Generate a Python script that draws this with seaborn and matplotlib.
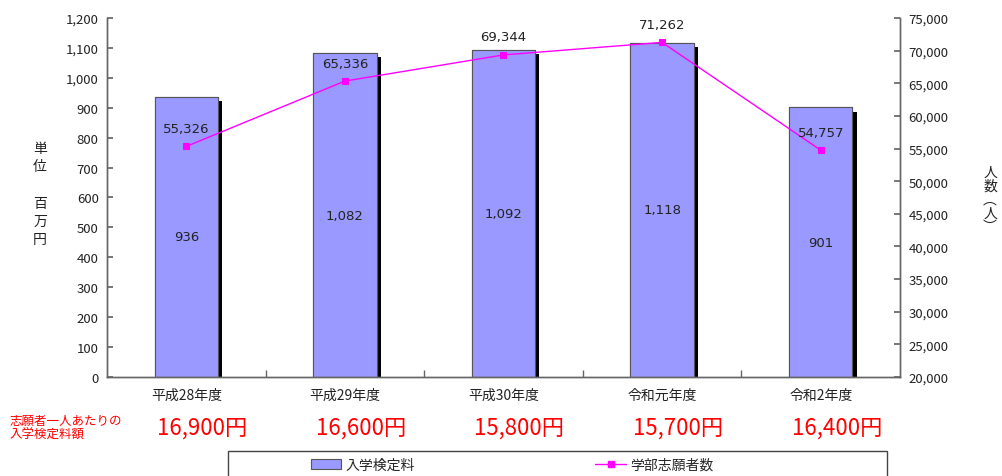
import matplotlib
matplotlib.use("Agg")
import matplotlib.pyplot as plt
import matplotlib.patheffects as pe
from matplotlib.patches import Rectangle, Patch
from matplotlib.lines import Line2D
from matplotlib.ticker import FuncFormatter, MultipleLocator, FixedLocator
import seaborn as sns
import pandas as pd

categories = ["平成28年度", "平成29年度", "平成30年度", "令和元年度", "令和2年度"]
fee_total = [936, 1082, 1092, 1118, 901]            # 入学検定料 (百万円)
applicants = [55326, 65336, 69344, 71262, 54757]    # 学部志願者数 (人)
fee_per_person = ["16,900円", "16,600円", "15,800円", "15,700円", "16,400円"]

sns.set_theme(style="white")
plt.rcParams['font.family'] = ['Noto Sans CJK JP', 'DejaVu Sans']

df = pd.DataFrame({"year": categories, "fee": fee_total, "apps": applicants})

fig = plt.figure(figsize=(10.02, 4.77), dpi=100)
ax = fig.add_axes([107/1002, 99/477, 793/1002, 359/477])

sns.barplot(data=df, x="year", y="fee", ax=ax, color="#9999FF", saturation=1,
            width=0.4, edgecolor="#555555", linewidth=0.8)
for p in ax.patches:
    p.set_path_effects([pe.withSimplePatchShadow(offset=(3, -3), shadow_rgbFace="black", alpha=1.0),
                        pe.Normal()])

ax.set_ylim(0, 1200)
ax.set_xlim(-0.5, 4.5)
ax.yaxis.set_major_locator(MultipleLocator(100))
ax.yaxis.set_major_formatter(FuncFormatter(lambda v, p: f"{int(v):,}"))
ax.set_xlabel("")
ax.set_ylabel("")

for i, v in enumerate(fee_total):
    ax.text(i, v / 2, f"{v:,}", ha="center", va="center", fontsize=9.5, color="#222222",
            family=['DejaVu Sans'])

ax2 = ax.twinx()
sns.pointplot(x=categories, y=applicants, ax=ax2, color="#FF00FF", markers="s",
              linestyles="-", markersize=5, linewidth=1.0)
ax2.set_ylim(20000, 75000)
ax2.yaxis.set_major_locator(MultipleLocator(5000))
ax2.yaxis.set_major_formatter(FuncFormatter(lambda v, p: f"{int(v):,}"))
ax2.set_xlim(-0.5, 4.5)
ax2.set_ylabel("")
for i, v in enumerate(applicants):
    ax2.annotate(f"{v:,}", (i, v), xytext=(0, 13), textcoords="offset points",
                 ha="center", va="center", fontsize=9.5, color="#222222", family=['DejaVu Sans'])

spine_c = "#666666"
for a in (ax, ax2):
    for s in ("left", "right", "bottom"):
        a.spines[s].set_color(spine_c)
        a.spines[s].set_linewidth(1.0)
    a.spines["top"].set_visible(False)
    a.grid(False)

ax.tick_params(axis="y", direction="in", length=4, color=spine_c, labelsize=9.5, pad=6,
               labelcolor="#222222")
ax2.tick_params(axis="y", direction="in", length=4, color=spine_c, labelsize=9.5, pad=6,
                labelcolor="#222222")
ax.set_xticks(range(len(categories)))
ax.set_xticklabels(categories)
ax.tick_params(axis="x", which="major", length=0, labelsize=10, pad=8, labelcolor="#222222")
ax.xaxis.set_minor_locator(FixedLocator([0.5, 1.5, 2.5, 3.5]))
ax.tick_params(axis="x", which="minor", direction="in", length=5, color=spine_c, bottom=True)
ax2.tick_params(axis="x", which="both", length=0, labelbottom=False)

# axis titles (vertical stacked)
fig.text(40/1002, 1 - 158/477, "単\n位", ha="center", va="center",
         fontsize=10, color="#222222", linespacing=1.4)
fig.text(40/1002, 1 - 222/477, "百\n万\n円", ha="center", va="center",
         fontsize=10, color="#222222", linespacing=1.4)
fig.text(990/1002, 1 - 200/477, "人\n数\n︵\n人\n︶", ha="center", va="center",
         fontsize=10, color="#222222", linespacing=0.95)

# per-person fee row
fig.text(10/1002, 1 - 428/477, "志願者一人あたりの\n入学検定料額", ha="left", va="center",
         fontsize=9, color="#FF0000", linespacing=1.1)
for i, t in enumerate(fee_per_person):
    x_fig = fig.transFigure.inverted().transform(ax.transData.transform((i, 0)))[0]
    fig.text(x_fig + 16/1002, 1 - 428/477, t, ha="center", va="center", fontsize=16,
             fontweight="normal", color="#FF0000")

# legend box
fig.patches.append(Rectangle((228/1002, -0.05), (887-228)/1002, (0.05 + (477-452)/477),
                             transform=fig.transFigure, fill=False, edgecolor="#444444",
                             linewidth=1.0))
handles = [Patch(facecolor="#9999FF", edgecolor="#555555", linewidth=0.8),
           Line2D([0], [0], color="#FF00FF", marker="s", markersize=5, linewidth=1.0)]
fig.legend(handles, ["入学検定料", "学部志願者数"], loc="center", ncol=2,
           bbox_to_anchor=(512/1002, 1 - 466/477), frameon=False, fontsize=10,
           columnspacing=13, handlelength=2.2, handletextpad=0.3)

fig.savefig("out.png", dpi=100)
